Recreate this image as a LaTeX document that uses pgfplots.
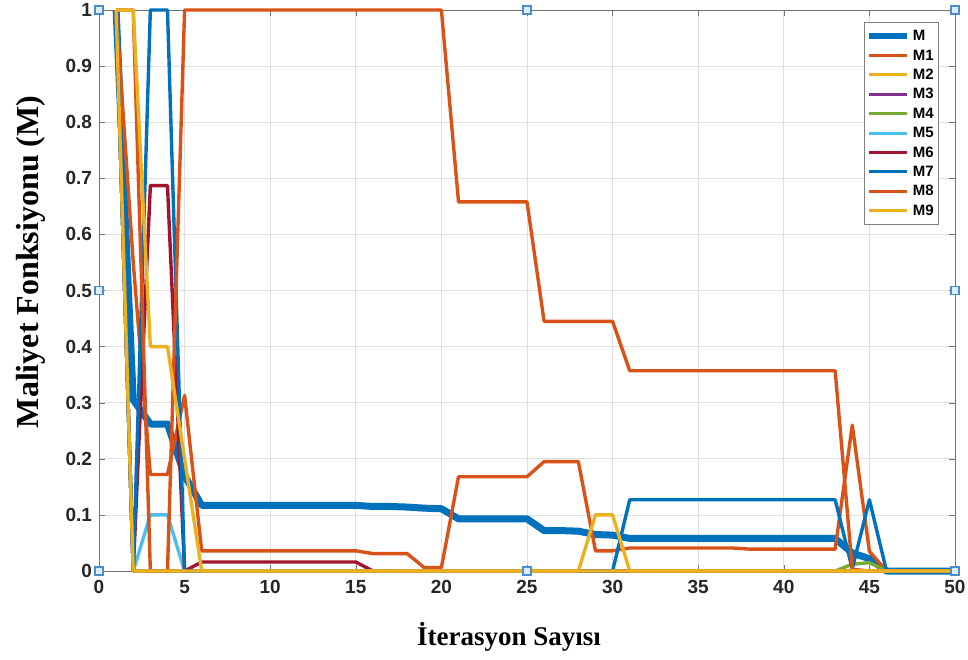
\documentclass[border=0pt]{standalone}
\usepackage{pgfplots}
\pgfplotsset{compat=1.18}
\usepackage{pgfplotstable}
\usepackage{fontspec}
\setmainfont{Liberation Sans}
\newfontfamily\timesf{Liberation Serif}
\definecolor{mblue}{rgb}{0,0.447,0.741}
\definecolor{morange}{rgb}{0.85,0.325,0.098}
\definecolor{myellow}{rgb}{0.929,0.694,0.125}
\definecolor{mpurple}{rgb}{0.494,0.184,0.556}
\definecolor{mgreen}{rgb}{0.466,0.674,0.188}
\definecolor{mcyan}{rgb}{0.301,0.745,0.933}
\definecolor{mred}{rgb}{0.635,0.078,0.184}
\definecolor{hdraw}{rgb}{0.30,0.55,0.80}
\definecolor{hfill}{rgb}{0.86,0.93,0.98}

\pgfplotstableread{
x  M     M1    M2   M3 M4    M5   M6    M7    M8    M9
1  1     1     1    1  1     1    1     1     1     1
2  0.305 0.55  1    0  0     0    0     0     1     0
3  0.262 0.172 0.4  0  0     0.1  0.687 1     0     0
4  0.262 0.172 0.4  0  0     0.1  0.687 1     0     0
5  0.17  0.313 0.2  0  0     0    0     0     1     0
6  0.117 0.036 0    0  0     0    0.016 0     1     0
7  0.117 0.036 0    0  0     0    0.016 0     1     0
8  0.117 0.036 0    0  0     0    0.016 0     1     0
9  0.117 0.036 0    0  0     0    0.016 0     1     0
10 0.117 0.036 0    0  0     0    0.016 0     1     0
11 0.117 0.036 0    0  0     0    0.016 0     1     0
12 0.117 0.036 0    0  0     0    0.016 0     1     0
13 0.117 0.036 0    0  0     0    0.016 0     1     0
14 0.117 0.036 0    0  0     0    0.016 0     1     0
15 0.117 0.036 0    0  0     0    0.016 0     1     0
16 0.115 0.031 0    0  0     0    0     0     1     0
17 0.115 0.031 0    0  0     0    0     0     1     0
18 0.114 0.031 0    0  0     0    0     0     1     0
19 0.112 0.006 0    0  0     0    0     0     1     0
20 0.111 0.006 0    0  0     0    0     0     1     0
21 0.093 0.168 0    0  0     0    0     0     0.658 0
22 0.093 0.168 0    0  0     0    0     0     0.658 0
23 0.093 0.168 0    0  0     0    0     0     0.658 0
24 0.093 0.168 0    0  0     0    0     0     0.658 0
25 0.093 0.168 0    0  0     0    0     0     0.658 0
26 0.072 0.195 0    0  0     0    0     0     0.445 0
27 0.072 0.195 0    0  0     0    0     0     0.445 0
28 0.071 0.195 0    0  0     0    0     0     0.445 0
29 0.065 0.036 0    0  0     0    0     0     0.445 0.1
30 0.064 0.036 0    0  0     0    0     0     0.445 0.1
31 0.058 0.041 0    0  0     0    0     0.127 0.357 0
32 0.058 0.041 0    0  0     0    0     0.127 0.357 0
33 0.058 0.041 0    0  0     0    0     0.127 0.357 0
34 0.058 0.041 0    0  0     0    0     0.127 0.357 0
35 0.058 0.041 0    0  0     0    0     0.127 0.357 0
36 0.058 0.041 0    0  0     0    0     0.127 0.357 0
37 0.058 0.041 0    0  0     0    0     0.127 0.357 0
38 0.058 0.039 0    0  0     0    0     0.127 0.357 0
39 0.058 0.039 0    0  0     0    0     0.127 0.357 0
40 0.058 0.039 0    0  0     0    0     0.127 0.357 0
41 0.058 0.039 0    0  0     0    0     0.127 0.357 0
42 0.058 0.039 0    0  0     0    0     0.127 0.357 0
43 0.058 0.039 0    0  0     0    0     0.127 0.357 0
44 0.032 0.26  0    0  0.012 0    0     0.004 0.003 0
45 0.022 0.035 0    0  0.015 0    0     0.127 0     0
46 0     0     0    0  0     0    0     0     0     0
47 0     0     0    0  0     0    0     0     0     0
48 0     0     0    0  0     0    0     0     0     0
49 0     0     0    0  0     0    0     0     0     0
50 0     0     0    0  0     0    0     0     0     0
}\data

\pgfplotstableread{
x  y
0  0
0  0.5
0  1
25 1
50 1
50 0.5
50 0
25 0
}\handles

\begin{document}
\begin{tikzpicture}
\useasboundingbox (-49.5pt,-44pt) rectangle (434.5pt,285.5pt);
\begin{axis}[
  at={(0,0)}, anchor=south west,
  scale only axis, width=428pt, height=280.5pt,
  xmin=0, xmax=50, ymin=0, ymax=1,
  xtick={0,5,10,15,20,25,30,35,40,45,50},
  ytick={0,0.1,0.2,0.3,0.4,0.5,0.6,0.7,0.8,0.9,1},
  clip=false,
  grid=major,
  major grid style={black!12},
  axis line style={black!55},
  tick style={black!55},
  major tick length=3pt,
  tick align=inside,
  /pgf/number format/assume math mode=true,
  tick label style={font=\bfseries\fontsize{9.5}{11}\selectfont, text=black!85},
  xticklabel style={yshift=-1pt},
  ylabel={\timesf\bfseries Maliyet Fonksiyonu (M)},
  ylabel style={at={(axis description cs:-0.080,0.551)}, anchor=center, font=\fontsize{16}{18}\selectfont},
  xlabel={\timesf\bfseries İterasyon Sayısı},
  xlabel style={at={(axis description cs:0.479,-0.117)}, anchor=center, font=\fontsize{13.5}{16}\selectfont},
  legend cell align=left,
  legend style={at={(rel axis cs:1,1)}, anchor=north east, xshift=-8pt, yshift=-6pt,
    draw=black!50, fill=white, font=\bfseries\fontsize{7.5}{9}\selectfont,
    nodes={inner ysep=0.6pt, inner xsep=1.5pt, text height=6.5pt, text depth=2pt},
    row sep=0pt, inner xsep=1pt, inner ysep=2pt},
  legend image code/.code={\draw[#1] (0pt,0pt) -- (19pt,0pt);},
]
\addlegendimage{mblue, line width=2.8pt}\addlegendentry{M}
\addlegendimage{morange, line width=1.5pt}\addlegendentry{M1}
\addlegendimage{myellow, line width=1.5pt}\addlegendentry{M2}
\addlegendimage{mpurple, line width=1.5pt}\addlegendentry{M3}
\addlegendimage{mgreen, line width=1.5pt}\addlegendentry{M4}
\addlegendimage{mcyan, line width=1.5pt}\addlegendentry{M5}
\addlegendimage{mred, line width=1.5pt}\addlegendentry{M6}
\addlegendimage{mblue, line width=1.5pt}\addlegendentry{M7}
\addlegendimage{morange, line width=1.5pt}\addlegendentry{M8}
\addlegendimage{myellow, line width=1.5pt}\addlegendentry{M9}

\addplot[forget plot, mblue, line width=3.5pt, line join=round] table[x=x, y=M] {\data};
\addplot[forget plot, morange, line width=1.7pt, line join=round] table[x=x, y=M1] {\data};
\addplot[forget plot, mpurple, line width=1.7pt, line join=round] table[x=x, y=M3] {\data};
\addplot[forget plot, mgreen, line width=1.7pt, line join=round] table[x=x, y=M4] {\data};
\addplot[forget plot, mcyan, line width=1.7pt, line join=round] table[x=x, y=M5] {\data};
\addplot[forget plot, mred, line width=1.7pt, line join=round] table[x=x, y=M6] {\data};
\addplot[forget plot, mblue, line width=1.7pt, line join=round] table[x=x, y=M7] {\data};
\addplot[forget plot, morange, line width=1.7pt, line join=round] table[x=x, y=M8] {\data};
\addplot[forget plot, myellow, line width=1.7pt, line join=round] table[x=x, y=M2] {\data};
\addplot[forget plot, myellow, line width=1.7pt, line join=round] table[x=x, y=M9] {\data};
\addplot[forget plot, only marks, mark=square*, mark size=2pt, mark options={draw=hdraw, fill=hfill, line width=0.6pt}] table[x=x, y=y] {\handles};
\end{axis}
\end{tikzpicture}
\end{document}
